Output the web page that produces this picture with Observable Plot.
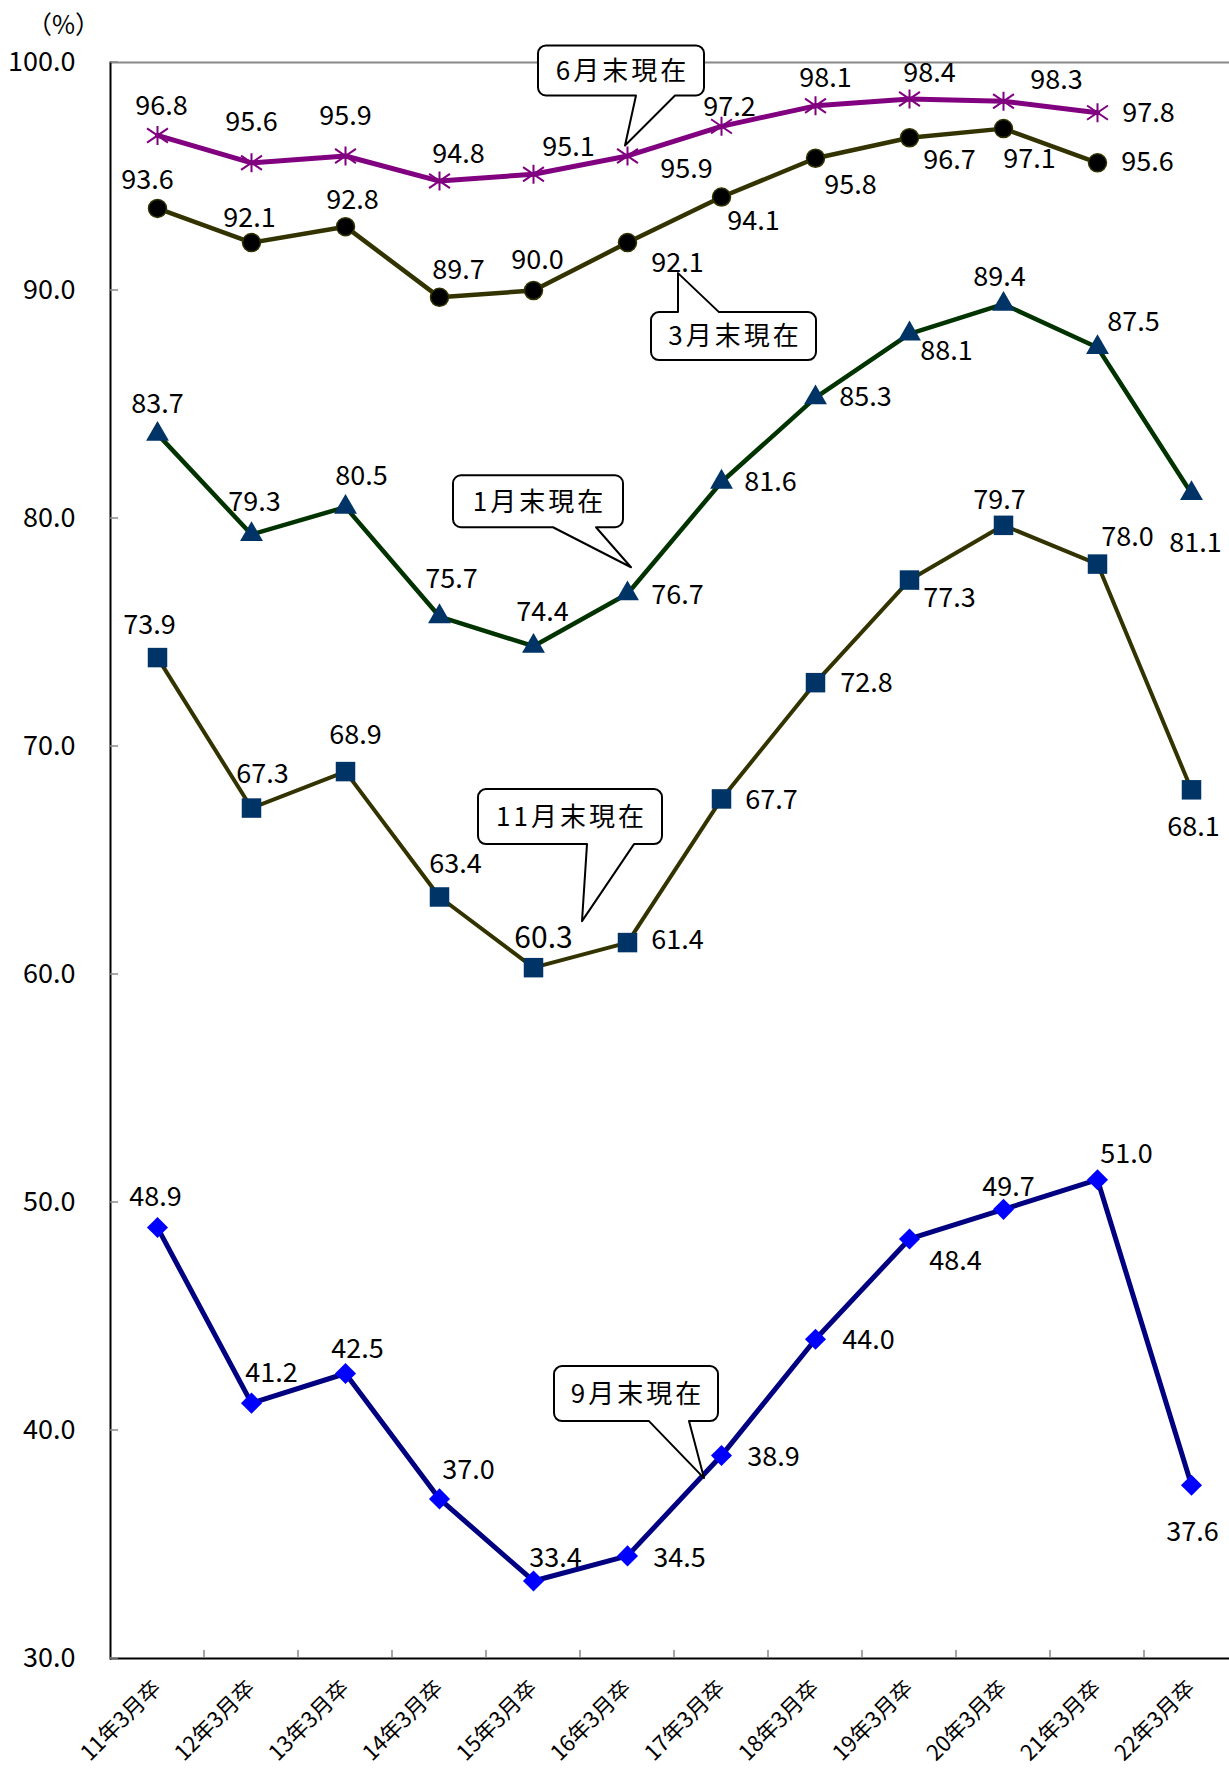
<!DOCTYPE html>
<html><head><meta charset="utf-8">
<script src="https://cdn.jsdelivr.net/npm/d3@7"></script>
<script src="https://cdn.jsdelivr.net/npm/@observablehq/plot@0.6"></script>
<style>body{margin:0;background:#fff}</style>
</head><body><div id="chart"></div>
<script>
// ---- data ----
const categories = ["11年3月卒","12年3月卒","13年3月卒","14年3月卒","15年3月卒","16年3月卒","17年3月卒","18年3月卒","19年3月卒","20年3月卒","21年3月卒","22年3月卒"];
const seriesNames = ["6月末現在","3月末現在","1月末現在","11月末現在","9月末現在"];
const junValues = [96.8, 95.6, 95.9, 94.8, 95.1, 95.9, 97.2, 98.1, 98.4, 98.3, 97.8];
const marValues = [93.6, 92.1, 92.8, 89.7, 90.0, 92.1, 94.1, 95.8, 96.7, 97.1, 95.6];
const janValues = [83.7, 79.3, 80.5, 75.7, 74.4, 76.7, 81.6, 85.3, 88.1, 89.4, 87.5, 81.1];
const novValues = [73.9, 67.3, 68.9, 63.4, 60.3, 61.4, 67.7, 72.8, 77.3, 79.7, 78.0, 68.1];
const sepValues = [48.9, 41.2, 42.5, 37.0, 33.4, 34.5, 38.9, 44.0, 48.4, 49.7, 51.0, 37.6];
const yTicks = [30, 40, 50, 60, 70, 80, 90, 100];
const yUnit = "（%）";

// ---- layout / style (not data) ----
const FONT = "'Noto Sans CJK JP', 'Noto Sans', sans-serif";
const asterisk = {draw(ctx, size) {
  const r = Math.sqrt(size / Math.PI);
  ctx.moveTo(0, -r); ctx.lineTo(0, r);
  const a = r * 1.1, b = r * 0.75;
  ctx.moveTo(-a, -b); ctx.lineTo(a, b);
  ctx.moveTo(-a, b); ctx.lineTo(a, -b);
}};
const seriesStyles = [
  {line: "#800080", lw: 5, symbol: asterisk, r: 9.5, fill: "none", stroke: "#800080", sw: 2,
   off: [[4,-29],[0,-40],[0,-40],[19,-27],[35,-27],[59,13],[8,-19],[10,-27],[20,-26],[53,-21],[51,1]]},
  {line: "#333300", lw: 4.5, symbol: "circle", r: 9, fill: "black", stroke: "#333300", sw: 1.5,
   off: [[-10,-28],[-2,-24],[7,-26],[19,-27],[4,-30],[50,21],[32,24],[35,27],[40,23],[26,31],[50,0]]},
  {line: "#003300", lw: 4.5, symbol: "triangle", r: 8.5, fill: "#003366", stroke: "none", sw: 0,
   off: [[0,-30],[3,-32],[16,-31],[12,-37],[9,-34],[50,2],[49,0],[50,0],[37,18],[-4,-27],[36,-25],[4,50]]},
  {line: "#333300", lw: 4, symbol: "square", r: 11, fill: "#003366", stroke: "none", sw: 0,
   off: [[-8,-32],[11,-34],[10,-36],[16,-33],[10,-29],[50,-2],[50,1],[51,1],[40,18],[-4,-25],[30,-27],[2,38]]},
  {line: "#000080", lw: 5, symbol: "diamond2", r: 9.5, fill: "#0000FF", stroke: "none", sw: 0,
   off: [[-2,-30],[20,-30],[12,-24],[29,-29],[22,-23],[52,2],[52,2],[53,1],[46,22],[5,-22],[29,-25],[1,47]]}
];
const labelFontOverride = {"11月末現在|15年3月卒": 30};

const valueArrays = [junValues, marValues, janValues, novValues, sepValues];
const series = seriesNames.map((name, k) => ({
  name,
  points: valueArrays[k].map((v, i) => ({cat: categories[i], value: v, series: name})),
  ...seriesStyles[k]
}));

// callouts anchored to data points (series index, point index), offsets in px
const callouts = [
  {s: 0, i: 5, tip: [-2,-10], box: [-87,79,-100,-50], tail: "bottom", base: [11,50]},
  {s: 1, i: 5, tip: [51,31], box: [-27,138,39,87], tail: "top", base: [0,41]},
  {s: 2, i: 5, tip: [4,-26], box: [-178,-8,-92,-40], tail: "bottom", base: [-78,-35]},
  {s: 3, i: 5, tip: [-45,-21], box: [-104,80,-132,-77], tail: "bottom", base: [5,52]},
  {s: 4, i: 6, tip: [-17,23], box: [-150,14,-112,-57], tail: "bottom", base: [-55,-15]}
];

function bandwidthOf(x) {
  return typeof x.bandwidth === "function" ? x.bandwidth() : (x.bandwidth || 0);
}

function yTickMarks(index, {y}, values, dims) {
  const g = d3.create("svg:g");
  const x0 = dims.marginLeft;
  for (const t of yTicks) {
    g.append("line").attr("x1", x0).attr("x2", x0 + 8).attr("y1", y(t)).attr("y2", y(t))
      .attr("stroke", "#888").attr("stroke-width", 1.5);
  }
  return g.node();
}
function xTickMarks(index, {x, y}) {
  const g = d3.create("svg:g");
  for (const c of categories.slice(1)) {
    const px = x(c);
    g.append("line").attr("x1", px).attr("x2", px).attr("y1", y(30)).attr("y2", y(30) - 8)
      .attr("stroke", "#888").attr("stroke-width", 1.5);
  }
  return g.node();
}
function calloutMark(index, {x, y}) {
  const bw = bandwidthOf(x);
  const g = d3.create("svg:g");
  for (const c of callouts) {
    const p = series[c.s].points[c.i];
    const px = x(p.cat) + bw / 2 + c.tip[0];
    const py = y(p.value) + c.tip[1];
    const l = px + c.box[0], r = px + c.box[1], t = py + c.box[2], b = py + c.box[3];
    const rr = 8, b1 = px + c.base[0], b2 = px + c.base[1];
    let d = `M${l + rr},${t}`;
    if (c.tail === "top") d += `L${b1},${t}L${px},${py}L${b2},${t}`;
    d += `L${r - rr},${t}A${rr},${rr} 0 0 1 ${r},${t + rr}L${r},${b - rr}A${rr},${rr} 0 0 1 ${r - rr},${b}`;
    if (c.tail === "bottom") d += `L${b2},${b}L${px},${py}L${b1},${b}`;
    d += `L${l + rr},${b}A${rr},${rr} 0 0 1 ${l},${b - rr}L${l},${t + rr}A${rr},${rr} 0 0 1 ${l + rr},${t}Z`;
    g.append("path").attr("d", d).attr("fill", "white").attr("stroke", "black")
      .attr("stroke-width", 2).attr("stroke-linejoin", "round");
    g.append("text").attr("x", (l + r) / 2 + 1.5).attr("y", (t + b) / 2).attr("dy", "0.36em")
      .attr("text-anchor", "middle").attr("font-size", 26).attr("letter-spacing", 3)
      .attr("font-family", FONT).attr("fill", "black").text(series[c.s].name);
  }
  return g.node();
}

const marks = [
  Plot.ruleY([100], {stroke: "#888", strokeWidth: 2}),
  Plot.ruleY([30], {stroke: "black", strokeWidth: 2}),
  Plot.frame({anchor: "left", stroke: "black", strokeWidth: 2}),
  yTickMarks,
  xTickMarks,
  Plot.axisY({ticks: yTicks, tickSize: 0, tickPadding: 35, tickFormat: d => d.toFixed(1), fontSize: 27}),
  Plot.axisX({tickSize: 0, tickRotate: -45, tickPadding: 26, fontSize: 22}),
  Plot.text([yUnit], {text: d => d, frameAnchor: "top-left", textAnchor: "middle", lineAnchor: "middle",
    dx: -47, dy: -37, fontSize: 25})
];
for (const s of series) {
  marks.push(Plot.line(s.points, {x: "cat", y: "value", stroke: s.line, strokeWidth: s.lw, strokeLinejoin: "round"}));
}
for (const s of series) {
  marks.push(Plot.dot(s.points, {x: "cat", y: "value", symbol: s.symbol, r: s.r, fill: s.fill, stroke: s.stroke, strokeWidth: s.sw}));
}
for (const s of series) {
  s.points.forEach((p, i) => {
    const fs = labelFontOverride[`${s.name}|${p.cat}`] || 27;
    marks.push(Plot.text([p], {x: "cat", y: "value", text: d => d.value.toFixed(1),
      dx: s.off[i][0], dy: s.off[i][1], fontSize: fs, fill: "black"}));
  });
}
marks.push(calloutMark);

const chart = Plot.plot({
  width: 1229, height: 1773,
  marginLeft: 110, marginTop: 62, marginBottom: 115, marginRight: 0,
  style: {fontFamily: FONT, color: "black", background: "white"},
  x: {type: "band", domain: categories, range: [110, 1238], padding: 0, label: null},
  y: {domain: [30, 100], label: null},
  marks
});
document.getElementById("chart").appendChild(chart);
</script></body></html>
